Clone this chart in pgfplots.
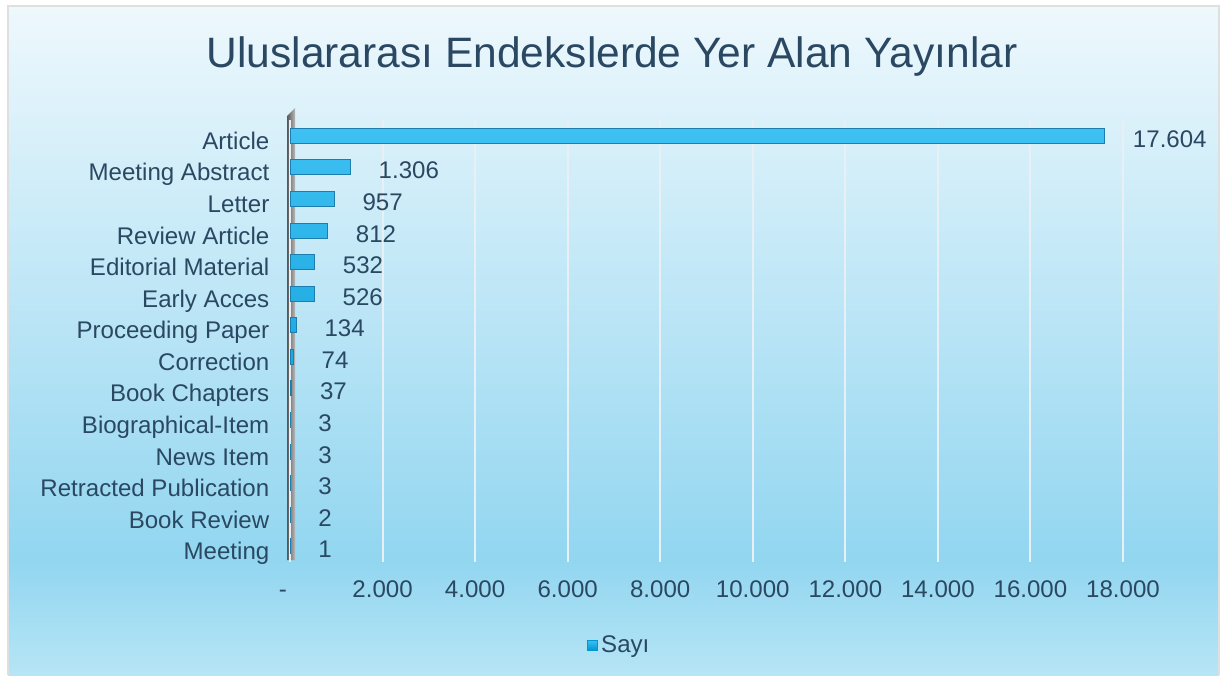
\documentclass[border=0pt]{standalone}
\usepackage{pgfplots}
\pgfplotsset{compat=1.18}
\usepackage{fontspec}
\setmainfont{Liberation Sans}

\definecolor{textc}{RGB}{42,72,98}
\definecolor{bgtop}{RGB}{238,248,253}
\definecolor{bgmid}{RGB}{146,214,240}
\definecolor{bgbot}{RGB}{182,229,246}
\definecolor{bartop}{RGB}{62,192,242}
\definecolor{barbot}{RGB}{0,150,210}
\definecolor{baredge}{RGB}{30,125,175}
\definecolor{gridc}{RGB}{232,240,245}

\pgfdeclareverticalshading{bgshade}{100bp}{color(0bp)=(bgbot); color(25bp)=(bgbot);
  color(33.6bp)=(bgmid); color(75bp)=(bgtop); color(100bp)=(bgtop)}

\begin{document}
\begin{tikzpicture}
% page: 1px = 0.02cm
\fill[white] (0,0) rectangle (24.46,13.5);
\shade[shading=bgshade] (0.16,0) rectangle (24.38,13.38);
\draw[gray!25, line width=0.6pt] (0.16,0) -- (0.16,13.38) -- (24.38,13.38) -- (24.38,0);

\node[font=\fontsize{24.2}{28}\selectfont, text=textc] at (12.24,12.36)
  {Uluslararası Endekslerde Yer Alan Yayınlar};

% left wall
\shade[left color=black!65, right color=gray!55] (5.74,2.3) -- (5.74,11.18) -- (5.9,11.34) -- (5.9,2.3) -- cycle;

\begin{axis}[
  at={(5.8cm,2.26cm)}, anchor=south west,
  width=16.66cm, height=8.84cm, scale only axis,
  xbar, bar width=0.3cm,
  xmin=0, xmax=18000, ymin=-0.5, ymax=13.5,
  scaled x ticks=false,
  xtick={0,2000,...,18000},
  xticklabels={\hspace{-0.28cm}-,2.000,4.000,6.000,8.000,10.000,12.000,14.000,16.000,18.000},
  ytick={0,...,13},
  yticklabels={Meeting\hspace{0.14cm}, Book Review, Retracted Publication, News Item,
    Biographical-Item, Book Chapters, Correction, Proceeding Paper,
    Early Acces\hspace{0.14cm}, Editorial Material\hspace{0.14cm}, Review Article,
    Letter\hspace{0.14cm}, Meeting Abstract\hspace{0.14cm}, Article\hspace{0.14cm}},
  axis line style={draw=none}, major tick length=0pt,
  xmajorgrids, grid style={gridc, line width=1.1pt},
  tick label style={font=\fontsize{13.7}{16}\selectfont, text=textc,
    text height=0.72em, text depth=0.2em},
  xticklabel style={yshift=-0.34cm},
  yticklabel style={xshift=-0.29cm, yshift=-0.18cm},
  point meta=x,
  nodes near coords={\pgfmathprintnumber[1000 sep={.}, assume math mode=true]{\pgfplotspointmeta}},
  nodes near coords style={font=\fontsize{13.7}{16}\selectfont, text=textc, anchor=west,
    xshift=0.44cm, yshift=-0.14cm, text height=0.72em, text depth=0.2em},
  legend style={at={(0.396,-0.188)}, anchor=center, draw=none, fill=none,
    font=\fontsize{13.7}{16}\selectfont, text=textc},
  legend image code/.code={\fill[barbot] (0cm,-0.1cm) rectangle (0.2cm,0.1cm);},
]
\addplot[top color=bartop, bottom color=barbot, draw=baredge, line width=0.5pt]
coordinates {
  (17604,13) (1306,12) (957,11) (812,10) (532,9) (526,8) (134,7)
  (74,6) (37,5) (3,4) (3,3) (3,2) (2,1) (1,0)
};
\addlegendentry{Sayı}
\end{axis}
\end{tikzpicture}
\end{document}
